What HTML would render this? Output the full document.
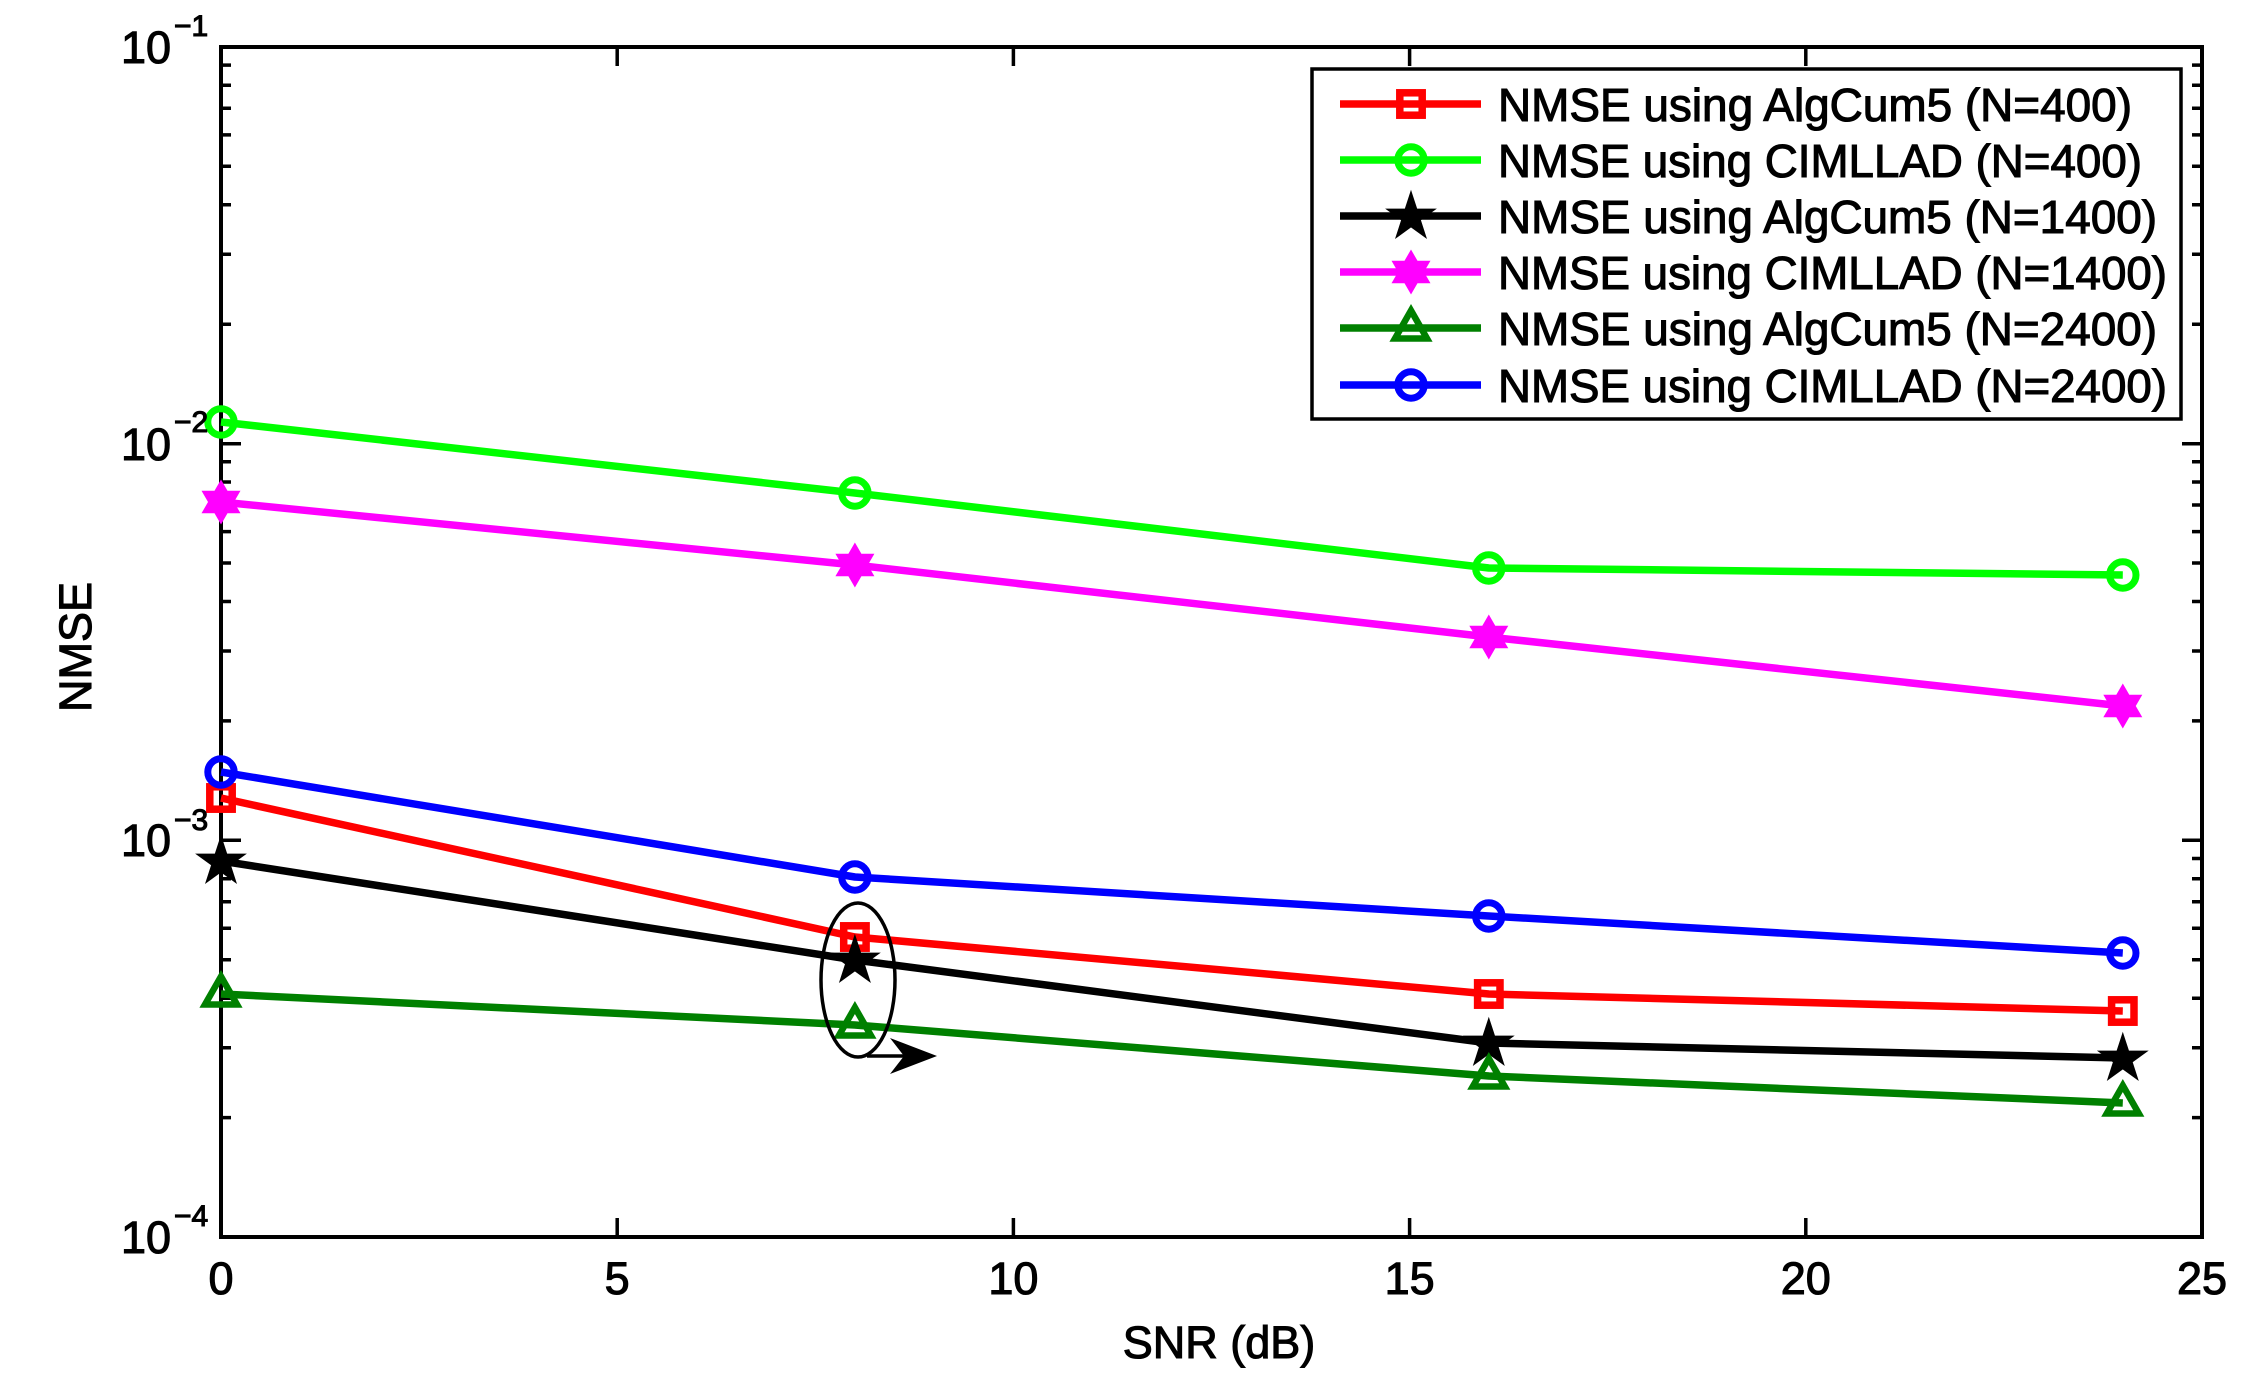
<!DOCTYPE html>
<html><head><meta charset="utf-8"><style>
html,body{margin:0;padding:0;background:#fff;}
svg{display:block;}
text{font-family:"Liberation Sans",Arial,sans-serif;fill:#000;stroke:#000;stroke-width:1.1px;}
</style></head><body>
<svg width="2253" height="1381" viewBox="0 0 2253 1381" xmlns="http://www.w3.org/2000/svg">
<defs>
<g id="mSq"><rect x="-11.2" y="-11.2" width="22.4" height="22.4" fill="none" stroke="#ff0000" stroke-width="7.5"/></g>
<g id="mCg"><circle r="13.2" fill="none" stroke="#00ff00" stroke-width="7"/></g>
<g id="mCb"><circle r="13.2" fill="none" stroke="#0000ff" stroke-width="7"/></g>
<g id="mPent"><polygon points="0,-24 5.41,-7.44 22.83,-7.42 8.75,2.84 14.11,19.42 0,9.2 -14.11,19.42 -8.75,2.84 -22.83,-7.42 -5.41,-7.44" fill="#000" stroke="#000" stroke-width="2" stroke-linejoin="miter" transform="translate(0,1)"/></g>
<g id="mHex"><polygon points="0,-21 6.06,-10.5 18.19,-10.5 12.1,0 18.19,10.5 6.06,10.5 0,21 -6.06,10.5 -18.19,10.5 -12.1,0 -18.19,-10.5 -6.06,-10.5" fill="#ff00ff" stroke="#ff00ff" stroke-width="1.5"/></g>
<g id="mTri"><polygon points="0,-17.5 16,10.5 -16,10.5" fill="none" stroke="#008000" stroke-width="6.5" stroke-linejoin="miter"/></g>
</defs>
<rect width="2253" height="1381" fill="#fff"/>

<!-- minor ticks left -->
<path d="M221 1117.6h10M221 1047.7h10M221 998.2h10M221 959.7h10M221 928.3h10M221 901.7h10M221 878.7h10M221 858.5h10
M221 720.9h10M221 651h10M221 601.5h10M221 563h10M221 531.6h10M221 505h10M221 482h10M221 461.8h10
M221 324.2h10M221 254.3h10M221 204.8h10M221 166.3h10M221 134.9h10M221 108.3h10M221 85.3h10M221 65.1h10
M221 443.7h20M221 840.3h20" stroke="#000" stroke-width="3.5" fill="none"/>
<!-- minor ticks right -->
<path d="M2202 1117.6h-10M2202 1047.7h-10M2202 998.2h-10M2202 959.7h-10M2202 928.3h-10M2202 901.7h-10M2202 878.7h-10M2202 858.5h-10
M2202 720.9h-10M2202 651h-10M2202 601.5h-10M2202 563h-10M2202 531.6h-10M2202 505h-10M2202 482h-10M2202 461.8h-10
M2202 324.2h-10M2202 254.3h-10M2202 204.8h-10M2202 166.3h-10M2202 134.9h-10M2202 108.3h-10M2202 85.3h-10M2202 65.1h-10
M2202 443.7h-20M2202 840.3h-20" stroke="#000" stroke-width="3.5" fill="none"/>
<!-- x ticks -->
<path d="M617.2 1237v-19M1013.4 1237v-19M1409.6 1237v-19M1805.8 1237v-19
M617.2 47v19M1013.4 47v19M1409.6 47v19M1805.8 47v19" stroke="#000" stroke-width="3.5" fill="none"/>

<!-- axes box -->
<rect x="221" y="47" width="1981" height="1190" fill="none" stroke="#000" stroke-width="4"/>

<!-- series lines -->
<g fill="none" stroke-width="7.5" stroke-linejoin="round">
<polyline points="221,798 854.9,937 1488.8,994 2122.8,1011" stroke="#ff0000"/>
<polyline points="221,422 854.9,493 1488.8,568 2122.8,575" stroke="#00ff00"/>
<polyline points="221,861 854.9,960 1488.8,1043 2122.8,1058" stroke="#000"/>
<polyline points="221,502 854.9,565 1488.8,637 2122.8,706" stroke="#ff00ff"/>
<polyline points="221,994 854.9,1025 1488.8,1076 2122.8,1103" stroke="#008000"/>
<polyline points="221,772 854.9,877 1488.8,916 2122.8,953" stroke="#0000ff"/>
</g>
<!-- markers -->
<use href="#mSq" x="221" y="798"/><use href="#mSq" x="854.9" y="937"/><use href="#mSq" x="1488.8" y="994"/><use href="#mSq" x="2122.8" y="1011"/>
<use href="#mCg" x="221" y="422"/><use href="#mCg" x="854.9" y="493"/><use href="#mCg" x="1488.8" y="568"/><use href="#mCg" x="2122.8" y="575"/>
<use href="#mPent" x="221" y="861"/><use href="#mPent" x="854.9" y="960"/><use href="#mPent" x="1488.8" y="1043"/><use href="#mPent" x="2122.8" y="1058"/>
<use href="#mHex" x="221" y="502"/><use href="#mHex" x="854.9" y="565"/><use href="#mHex" x="1488.8" y="637"/><use href="#mHex" x="2122.8" y="706"/>
<use href="#mTri" x="221" y="994"/><use href="#mTri" x="854.9" y="1025"/><use href="#mTri" x="1488.8" y="1076"/><use href="#mTri" x="2122.8" y="1103"/>
<use href="#mCb" x="221" y="772"/><use href="#mCb" x="854.9" y="877"/><use href="#mCb" x="1488.8" y="916"/><use href="#mCb" x="2122.8" y="953"/>

<!-- annotation ellipse + arrow -->
<ellipse cx="858" cy="980" rx="37" ry="77" fill="none" stroke="#000" stroke-width="3.5"/>
<line x1="867" y1="1056" x2="915" y2="1056" stroke="#000" stroke-width="3.5"/>
<polygon points="937,1056 890,1038 904,1056 890,1074" fill="#000"/>

<!-- legend -->
<rect x="1312" y="69" width="869" height="350" fill="#fff" stroke="#000" stroke-width="3.5"/>
<g stroke-width="7.5" fill="none">
<line x1="1340" y1="104" x2="1481" y2="104" stroke="#ff0000"/>
<line x1="1340" y1="160" x2="1481" y2="160" stroke="#00ff00"/>
<line x1="1340" y1="216" x2="1481" y2="216" stroke="#000"/>
<line x1="1340" y1="272" x2="1481" y2="272" stroke="#ff00ff"/>
<line x1="1340" y1="328" x2="1481" y2="328" stroke="#008000"/>
<line x1="1340" y1="385" x2="1481" y2="385" stroke="#0000ff"/>
</g>
<use href="#mSq" x="1411" y="104"/>
<use href="#mCg" x="1411" y="160"/>
<use href="#mPent" x="1411" y="216"/>
<use href="#mHex" x="1411" y="272"/>
<use href="#mTri" x="1411" y="328"/>
<use href="#mCb" x="1411" y="385"/>
<g font-size="46">
<text x="1498" y="121" textLength="634" lengthAdjust="spacingAndGlyphs">NMSE using AlgCum5 (N=400)</text>
<text x="1498" y="177" textLength="644" lengthAdjust="spacingAndGlyphs">NMSE using CIMLLAD (N=400)</text>
<text x="1498" y="233" textLength="659" lengthAdjust="spacingAndGlyphs">NMSE using AlgCum5 (N=1400)</text>
<text x="1498" y="289" textLength="669" lengthAdjust="spacingAndGlyphs">NMSE using CIMLLAD (N=1400)</text>
<text x="1498" y="345" textLength="659" lengthAdjust="spacingAndGlyphs">NMSE using AlgCum5 (N=2400)</text>
<text x="1498" y="402" textLength="669" lengthAdjust="spacingAndGlyphs">NMSE using CIMLLAD (N=2400)</text>
</g>

<!-- x tick labels -->
<g font-size="45" text-anchor="middle">
<text x="221" y="1294">0</text>
<text x="617.2" y="1294">5</text>
<text x="1013.4" y="1294">10</text>
<text x="1409.6" y="1294">15</text>
<text x="1805.8" y="1294">20</text>
<text x="2202" y="1294">25</text>
</g>
<!-- y tick labels -->
<g font-size="45" text-anchor="end">
<text x="171" y="63">10</text>
<text x="171" y="460">10</text>
<text x="171" y="856">10</text>
<text x="171" y="1253">10</text>
</g>
<g font-size="30">
<text x="174" y="36">−1</text>
<text x="174" y="432">−2</text>
<text x="174" y="830">−3</text>
<text x="174" y="1226">−4</text>
</g>

<!-- axis labels -->
<text x="1219" y="1358" font-size="45" text-anchor="middle">SNR (dB)</text>
<text transform="translate(91,647) rotate(-90)" font-size="45" text-anchor="middle">NMSE</text>
</svg>
</body></html>
